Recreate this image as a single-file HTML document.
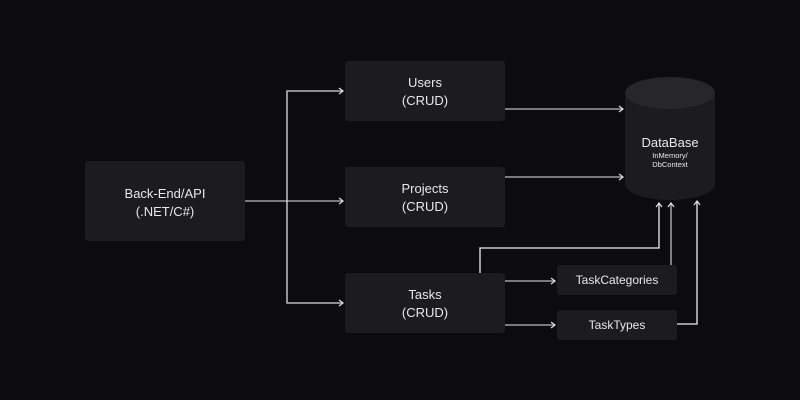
<!DOCTYPE html>
<html><head><style>
body{margin:0;background:#0c0c10;}
svg{display:block}
text{font-family:"Liberation Sans",sans-serif;fill:#e8e8ea;text-anchor:middle}
</style></head><body>
<svg width="800" height="400" viewBox="0 0 800 400">
<rect x="0" y="0" width="800" height="400" rx="8" fill="#0c0c10"/>
<defs><marker id="a" markerWidth="8" markerHeight="8" refX="6" refY="4" orient="auto" markerUnits="userSpaceOnUse"><path d="M2,1 L6,4 L2,7" fill="none" stroke="#e0e0e0" stroke-width="1.2"/></marker></defs>
<g fill="#1c1c20">
<rect x="85" y="161" width="160" height="80" rx="3"/>
<rect x="345" y="61" width="160" height="60" rx="3"/>
<rect x="345" y="167" width="160" height="60" rx="3"/>
<rect x="345" y="273" width="160" height="60" rx="3"/>
<rect x="557" y="265" width="120" height="30" rx="3"/>
<rect x="557" y="310" width="120" height="30" rx="3"/>
<path d="M625,93 L625,184 A45,16 0 0 0 715,184 L715,93 Z"/>
</g>
<ellipse cx="670" cy="93" rx="45" ry="16" fill="#26262b"/>
<g fill="none" stroke="#bdbdbd" stroke-width="1.3">
<path d="M245,201 L343,201" marker-end="url(#a)"/>
<path d="M343,91 L287,91 L287,303 L343,303" stroke="#ddd"/>
<path d="M287,91 L343,91" marker-end="url(#a)"/>
<path d="M287,303 L343,303" marker-end="url(#a)"/>
<path d="M505,109 L623,109" marker-end="url(#a)"/>
<path d="M505,177 L623,177" marker-end="url(#a)"/>
<path d="M480,273 L480,248 L659,248 L659,203" stroke="#eee" marker-end="url(#a)"/>
<path d="M671,265 L671,203" marker-end="url(#a)"/>
<path d="M677,324 L697,324 L697,201" stroke="#eee" marker-end="url(#a)"/>
<path d="M505,281 L555,281" marker-end="url(#a)"/>
<path d="M505,325 L555,325" marker-end="url(#a)"/>
</g>
<g font-size="13">
<text x="165" y="198">Back-End/API</text><text x="165" y="216">(.NET/C#)</text>
<text x="425" y="87">Users</text><text x="425" y="105">(CRUD)</text>
<text x="425" y="193">Projects</text><text x="425" y="211">(CRUD)</text>
<text x="425" y="299">Tasks</text><text x="425" y="317">(CRUD)</text>
<text x="617" y="284" font-size="12">TaskCategories</text>
<text x="617" y="329" font-size="12">TaskTypes</text>
<text x="670" y="147" font-size="13">DataBase</text>
<text x="670" y="158" font-size="7.5">InMemory/</text>
<text x="670" y="167" font-size="7.5">DbContext</text>
</g>
</svg>
</body></html>
